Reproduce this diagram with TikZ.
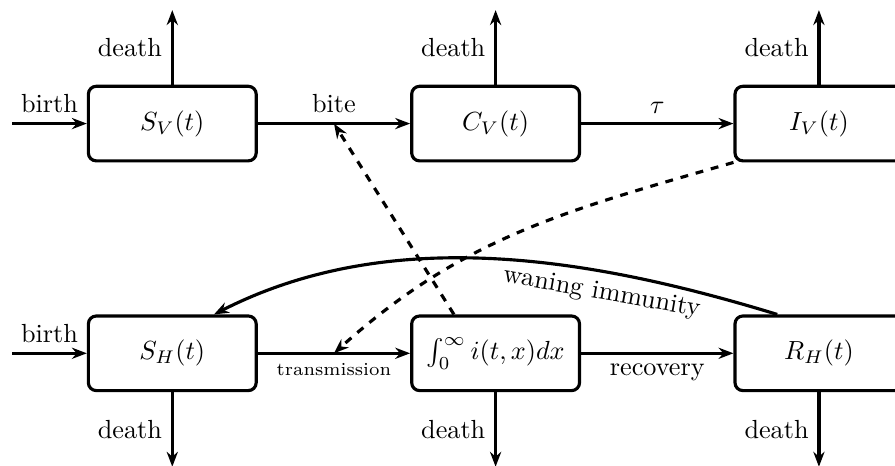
\documentclass[tikz,border=0pt]{standalone}
\usepackage{amsmath}
\usepackage{amssymb}
\usepackage{tikz}
\usetikzlibrary{arrows.meta, calc}

\begin{document}
\begin{tikzpicture}[
    compartment/.style={draw, rounded corners=3pt, minimum width=2.25cm,
                        minimum height=1cm, line width=1.2pt},
    conn/.style={-{Stealth[length=2mm]}, line width=1.2pt},
    infect/.style={conn, dashed},
]
    \useasboundingbox (0,-0.02) rectangle (12,6.227);

    % Row 1: Vectors
    \node[compartment] (SV) at (2.31,4.57) {$S_V(t)$};
    \node[compartment] (CV) at (6.645,4.57) {$C_V(t)$};
    \node[compartment] (IV) at (10.98,4.57) {$I_V(t)$};

    % Row 2: Hosts
    \node[compartment] (SH) at (2.31,1.49) {$S_H(t)$};
    \node[compartment] (INF) at (6.645,1.49) {$\int_0^\infty i(t,x)dx$};
    \node[compartment] (RH) at (10.98,1.49) {$R_H(t)$};

    % Births
    \draw[conn] (SV.west) ++(-1,0) -- (SV.west) node[midway,above] {birth};
    \draw[conn] (SH.west) ++(-1,0) -- (SH.west) node[midway,above] {birth};

    % Deaths
    \draw[conn] (SV.north) -- ++(0,1) node[midway,left] {death};
    \draw[conn] (CV.north) -- ++(0,1) node[midway,left] {death};
    \draw[conn] (IV.north) -- ++(0,1) node[midway,left] {death};
    \draw[conn] (SH.south) -- ++(0,-1) node[midway,left] {death};
    \draw[conn] (INF.south) -- ++(0,-1) node[midway,left] {death};
    \draw[conn] (RH.south) -- ++(0,-1) node[midway,left] {death};

    % Transitions
    \draw[conn] (SV) -- coordinate (bite) node[above] {bite} (CV);
    \draw[conn] (CV) -- node[above] {$\tau$} (IV);
    \draw[conn] (SH) -- coordinate (trans) node[below] {\scriptsize transmission} (INF);
    \draw[conn] (INF) -- node[below] {recovery} (RH);
    \draw[conn] (RH.137) to[out=163, in=27, looseness=0.9]
        node[pos=0.3, below, sloped] {waning immunity} (SH.43);

    % Infection
    \draw[infect] (INF.137) -- (bite);
    \draw[infect] (IV.south west) to[out=196, in=42] (trans);
\end{tikzpicture}
\end{document}
